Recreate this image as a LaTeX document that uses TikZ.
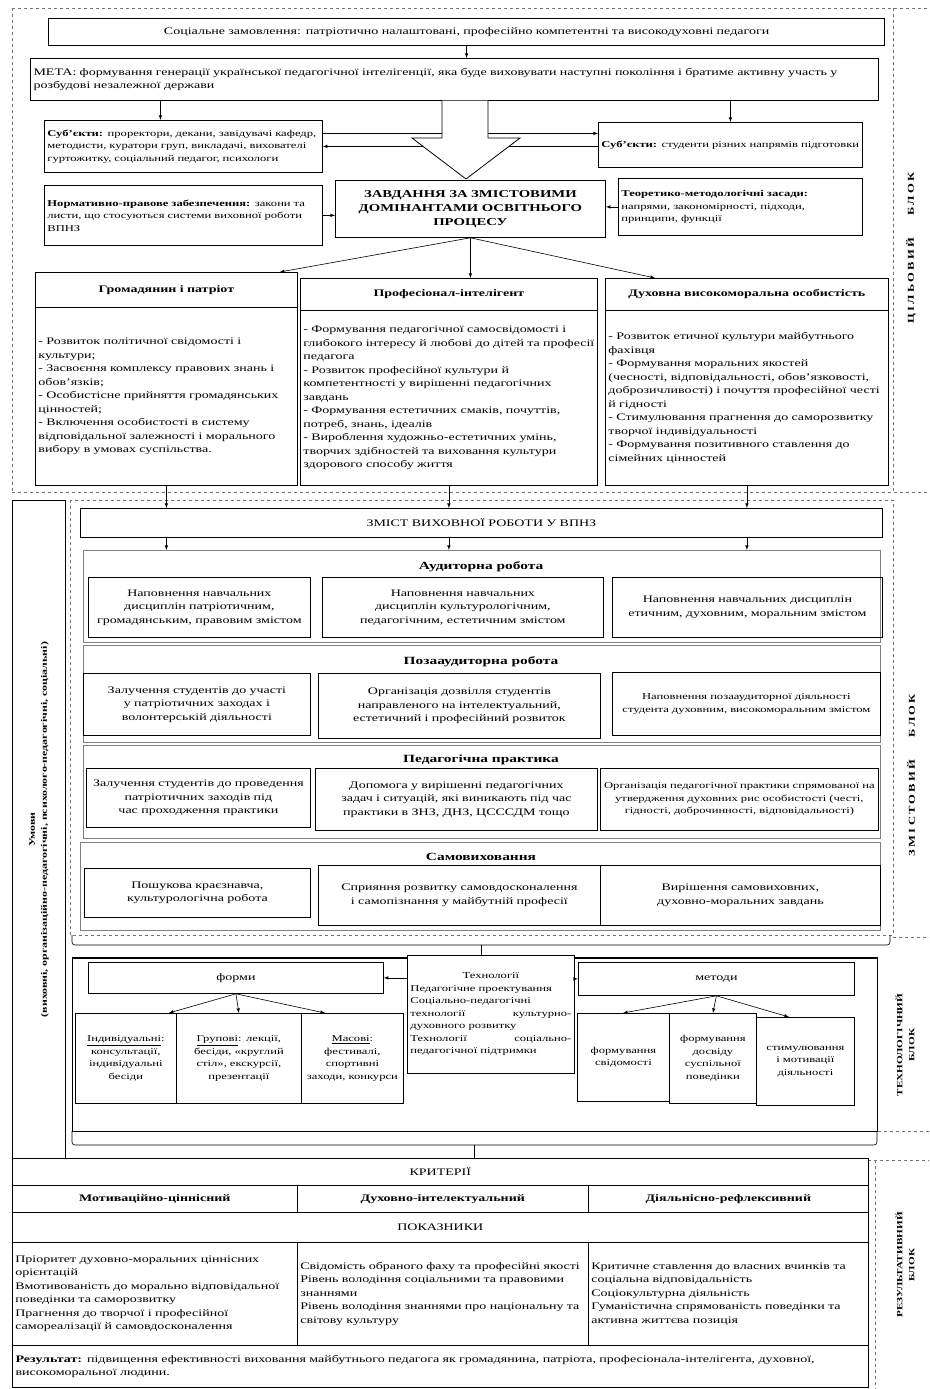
\documentclass[tikz,border=0pt]{standalone}
\usepackage{fontspec}
\setmainfont{Liberation Serif}[FakeStretch=1.4]
\newfontfamily\blokfont{Liberation Serif}[FakeStretch=1.4,LetterSpace=25]
\usetikzlibrary{positioning}

\begin{document}
\begin{tikzpicture}[x=1pt, y=1pt,
  cell/.style={draw, line width=0.8pt, anchor=north west, inner sep=3pt,
    align=center, font=\fontsize{10}{13.5}\selectfont},
  lcell/.style={cell, align=left},
  sm/.style={font=\fontsize{9}{12.5}\selectfont},
  hd/.style={font=\fontsize{10}{13.5}\selectfont\bfseries},
  sect/.style={draw=black!50, line width=0.5pt, anchor=north west, inner sep=0pt},
  sectname/.style={font=\fontsize{11}{13}\selectfont\bfseries},
  blok/.style={draw=black!55, dashed, line width=0.6pt},
  arr/.style={-latex, line width=0.6pt},
  blokname/.style={rotate=90, align=center, font=\blokfont\fontsize{9}{13}\selectfont\bfseries},
  blokname2/.style={rotate=90, align=center, font=\fontsize{8}{12}\selectfont\bfseries}]
  \useasboundingbox (0,0) rectangle (929,-1389);
  % dashed blocks
  \draw[blok] (12,-8) -- (929,-8);
  \draw[blok] (12,-8) -- (12,-492);
  \draw[blok] (893,-8) -- (893,-492);
  \draw[blok] (12,-492) -- (929,-492);
  \draw[blok] (70,-500) rectangle (893,-935);
  \draw[blok] (893,-937) -- (929,-937);
  \draw[blok] (877,-958) -- (877,-1131) -- (929,-1131);
  \draw[blok] (868,-1160) -- (929,-1160);
  \draw[blok] (875,-1160) -- (875,-1389);
  \node[blokname] (cilL) at (911,-248) {ЦІЛЬОВИЙ\hspace{2.5em}БЛОК};
  \node[blokname] (zmiL) at (911,-775) {ЗМІСТОВИЙ\hspace{2.5em}БЛОК};
  \node[blokname2] (tehL) at (905,-1045) {ТЕХНОЛОГІЧНИЙ\\БЛОК};
  \node[blokname2] (rezL) at (905,-1265) {РЕЗУЛЬТАТИВНИЙ\\БЛОК};

  % цільовий блок
  \node[cell, line width=1.2pt, text width=830, minimum height=27] (soc) at (48,-18) {Соціальне замовлення: патріотично налаштовані, професійно компетентні та високодуховні педагоги};
  \node[lcell, line width=1.1pt, text width=842, minimum height=42] (meta) at (30,-58) {МЕТА: формування генерації української педагогічної інтелігенції, яка буде виховувати наступні покоління і братиме активну участь у розбудові незалежної держави};
  \node[lcell, sm, text width=272, minimum height=52] (subjL) at (44,-120) {\textbf{Суб’єкти:} проректори, декани, завідувачі кафедр, методисти, куратори груп, викладачі, вихователі гуртожитку, соціальний педагог, психологи};
  \node[lcell, sm, text width=258, minimum height=45] (subjR) at (598,-122) {\textbf{Суб’єкти:} студенти різних напрямів підготовки};
  \node[lcell, sm, text width=272, minimum height=60] (norm) at (44,-185) {\textbf{Нормативно-правове забезпечення:} закони та листи, що стосуються системи виховної роботи ВПНЗ};
  \node[cell, text width=264, minimum height=57, font=\fontsize{10.5}{14}\selectfont\bfseries] (task) at (335,-180) {ЗАВДАННЯ ЗА ЗМІСТОВИМИ\\ДОМІНАНТАМИ ОСВІТНЬОГО\\ПРОЦЕСУ};
  \node[lcell, sm, text width=238, minimum height=57] (theory) at (618,-178) {\textbf{Теоретико-методологічні засади:} напрями, закономірності, підходи, принципи, функції};

  \node[cell, hd, text width=256, minimum height=35] (hA) at (35,-272) {Громадянин і патріот};
  \node[lcell, text width=256, minimum height=178] (bA) at (35,-307) {- Розвиток політичної свідомості і культури;\\- Засвоєння комплексу правових знань і обов’язків;\\- Особистісне прийняття громадянських цінностей;\\- Включення особистості в систему відповідальної залежності і морального вибору в умовах суспільства.};
  \node[cell, hd, text width=291, minimum height=32] (hB) at (300,-278) {Професіонал-інтелігент};
  \node[lcell, text width=291, minimum height=175] (bB) at (300,-310) {- Формування педагогічної самосвідомості і глибокого інтересу й любові до дітей та професії педагога\\- Розвиток професійної культури й компетентності у вирішенні педагогічних завдань\\- Формування естетичних смаків, почуттів, потреб, знань, ідеалів\\- Вироблення художньо-естетичних умінь, творчих здібностей та виховання культури здорового способу життя};
  \node[cell, hd, text width=277, minimum height=32] (hC) at (605,-278) {Духовна високоморальна особистість};
  \node[lcell, text width=277, minimum height=175] (bC) at (605,-310) {- Розвиток етичної культури майбутнього фахівця\\- Формування моральних якостей (чесності, відповідальності, обов’язковості, доброзичливості) і почуття професійної честі й гідності\\- Стимулювання прагнення до саморозвитку творчої індивідуальності\\- Формування позитивного ставлення до сімейних цінностей};

  \draw[arr] (soc.south) -- (soc.south |- meta.north);
  \coordinate (sl) at ([xshift=-23pt]subjL.north);
  \draw[arr] (sl |- meta.south) -- (sl);
  \draw[arr] (subjR.north |- meta.south) -- (subjR.north);
  \coordinate (lr) at ([yshift=13pt]subjL.east);
  \draw[arr] (lr) -- (lr -| subjR.west);
  \draw[arr] (subjR.west |- subjL.east) -- (subjL.east);
  \draw[arr] (norm.east) -- (norm.east -| task.west);
  \draw[arr] (theory.west) -- (theory.west -| task.east);
  % hollow arrow
  \draw[line width=0.8pt, fill=white] (442,-100.5) -- (442,-138) -- (412,-138) -- (466,-179) -- (520,-138) -- (488,-138) -- (488,-100.5);
  \coordinate (fa) at ([xshift=-18pt]hA.north east);
  \coordinate (fc) at ([xshift=50pt]hC.north west);
  \draw[arr] (task.south) -- (fa);
  \draw[arr] (task.south) -- (task.south |- hB.north);
  \draw[arr] (task.south) -- (fc);

  % змістовий блок
  \node[draw, line width=1pt, anchor=north west, minimum width=53, minimum height=658, inner sep=0pt] (umovy) at (12,-500) {};
  \node[rotate=90, align=center, font=\fontsize{8.5}{12}\selectfont\bfseries] (umovyT) at (umovy.center) {Умови\\(виховні, організаційно-педагогічні, психолого-педагогічні, соціальні)};
  \node[cell, text width=796, minimum height=29] (zmist) at (80,-508) {ЗМІСТ ВИХОВНОЇ РОБОТИ У ВПНЗ};
  \draw[arr] (bA.south) -- (bA.south |- zmist.north);
  \draw[arr] (bB.south) -- (bB.south |- zmist.north);
  \draw[arr] (bC.south) -- (bC.south |- zmist.north);

  \node[sect, minimum width=797, minimum height=92] (aud) at (83,-550) {};
  \node[sectname] (audT) at (481,-567) {Аудиторна робота};
  \node[cell, text width=216, minimum height=60] (aA) at (88,-577) {Наповнення навчальних дисциплін патріотичним, громадянським, правовим змістом};
  \node[cell, text width=275, minimum height=60] (aB) at (322,-577) {Наповнення навчальних дисциплін культурологічним, педагогічним, естетичним змістом};
  \node[cell, text width=264, minimum height=60] (aC) at (612,-577) {Наповнення навчальних дисциплін етичним, духовним, моральним змістом};
  \draw[arr] (bA.south |- zmist.south) -- (bA.south |- aud.north);
  \draw[arr] (bB.south |- zmist.south) -- (bB.south |- aud.north);
  \draw[arr] (bC.south |- zmist.south) -- (bC.south |- aud.north);

  \node[sect, minimum width=797, minimum height=97] (poza) at (83,-645) {};
  \node[sectname] (pozaT) at (481,-662) {Позааудиторна робота};
  \node[cell, text width=221, minimum height=62] (pA) at (83,-673) {Залучення студентів до участі у патріотичних заходах і волонтерській діяльності};
  \node[cell, text width=276, minimum height=65] (pB) at (318,-673) {Організація дозвілля студентів направленого на інтелектуальний, естетичний і професійний розвиток};
  \node[cell, sm, text width=262, minimum height=63] (pC) at (612,-672) {Наповнення позааудиторної діяльності студента духовним, високоморальним змістом};

  \node[sect, minimum width=797, minimum height=93] (prak) at (83,-745) {};
  \node[sectname] (prakT) at (481,-760) {Педагогічна практика};
  \node[cell, text width=218, minimum height=59] (kA) at (86,-768) {Залучення студентів до проведення патріотичних заходів під час проходження практики};
  \node[cell, text width=276, minimum height=62] (kB) at (315,-768) {Допомога у вирішенні педагогічних задач і ситуацій, які виникають під час практики в ЗНЗ, ДНЗ, ЦСССДМ тощо};
  \node[cell, sm, text width=272, minimum height=62] (kC) at (600,-768) {Організація педагогічної практики спрямованої на утвердження духовних рис особистості (честі, гідності, доброчинності, відповідальності)};

  \node[sect, minimum width=800, minimum height=88] (samo) at (80,-842) {};
  \node[sectname] (samoT) at (481,-857) {Самовиховання};
  \node[cell, text width=220, minimum height=49] (sA) at (84,-868) {Пошукова краєзнавча, культурологічна робота};
  \node[cell, text width=276, minimum height=60] (sB) at (318,-865) {Сприяння розвитку самовдосконалення і самопізнання у майбутній професії};
  \node[cell, text width=274, minimum height=60] (sC) at (600,-865) {Вирішення самовиховних, духовно-моральних завдань};

  % технологічний блок
  \node[draw, line width=0.6pt, anchor=north west, minimum width=805, minimum height=173, inner sep=0pt] (tech) at (72,-958) {};
  \draw[line width=1.6pt] (tech.north west) -- (tech.north east);
  \draw[line width=0.6pt, rounded corners=3pt] (72,-935) -- (72,-945) -- (890,-945) -- (890,-935);
  \coordinate (brk1) at (481,-945);
  \draw[line width=0.6pt] (brk1) -- (brk1 |- tech.north);
  \node[cell, text width=289, minimum height=31] (forms) at (88,-962) {форми};
  \node[cell, sm, align=justify, text width=161, minimum height=118, fill=white] (techn) at (407,-955) {\hfil Технології\hfil\\Педагогічне проектування\\Соціально-педагогічні технології культурно-духовного розвитку\\Технології соціально-педагогічної підтримки};
  \node[cell, text width=270, minimum height=33] (methods) at (578,-962) {методи};
  \draw[arr] (techn.west |- forms.east) -- (forms.east);
  \draw[arr] (techn.east |- methods.west) -- (methods.west);

  \node[cell, sm, text width=95, minimum height=90] (fA) at (75,-1013) {\underline{Індивідуальні}: консультації, індивідуальні бесіди};
  \node[cell, sm, text width=119, minimum height=90] (fB) at (176,-1013) {\underline{Групові}: лекції, бесіди, «круглий стіл», екскурсії, презентації};
  \node[cell, sm, text width=96, minimum height=90] (fC) at (301,-1013) {\underline{Масові}: фестивалі, спортивні заходи, конкурси};
  \coordinate (ga) at ([xshift=-8pt]fA.north east);
  \coordinate (gc) at ([xshift=24pt]fC.north west);
  \draw[arr] (forms.south) -- (ga);
  \draw[arr] (forms.south) -- (fB.north);
  \draw[arr] (forms.south) -- (gc);

  \node[cell, sm, text width=86, minimum height=88] (mA) at (577,-1013) {формування свідомості};
  \node[cell, sm, text width=81, minimum height=90] (mB) at (669,-1013) {формування досвіду суспільної поведінки};
  \node[cell, sm, text width=92, minimum height=88] (mC) at (756,-1017) {стимулювання і мотивації діяльності};
  \coordinate (ma) at ([xshift=46pt]mA.north west);
  \coordinate (mc) at ([xshift=33pt]mC.north west);
  \draw[arr] (methods.south) -- (ma);
  \draw[arr] (methods.south) -- (mB.north);
  \draw[arr] (methods.south) -- (mc);

  % результативний блок
  \draw[line width=0.6pt, rounded corners=3pt] (72,-1131) -- (72,-1145) -- (877,-1145) -- (877,-1131);
  \node[cell, line width=0.6pt, text width=850, minimum height=27] (krit) at (12,-1158) {КРИТЕРІЇ};
  \coordinate (brk2) at (474,-1145);
  \draw[line width=0.6pt] (brk2) -- (brk2 |- krit.north);
  \node[cell, hd, line width=0.6pt, text width=279, minimum height=27] (cA) at (12,-1185) {Мотиваційно-ціннісний};
  \node[cell, hd, line width=0.6pt, text width=285, minimum height=27] (cB) at (297,-1185) {Духовно-інтелектуальний};
  \node[cell, hd, line width=0.6pt, text width=274, minimum height=27] (cC) at (588,-1185) {Діяльнісно-рефлексивний};
  \node[cell, line width=0.6pt, text width=850, minimum height=30] (pokaz) at (12,-1212) {ПОКАЗНИКИ};
  \node[lcell, line width=0.6pt, text width=279, minimum height=103] (iA) at (12,-1242) {Пріоритет духовно-моральних ціннісних орієнтацій\\Вмотивованість до морально відповідальної поведінки та саморозвитку\\Прагнення до творчої і професійної самореалізації й самовдосконалення};
  \node[lcell, line width=0.6pt, text width=285, minimum height=103] (iB) at (297,-1242) {Свідомість обраного фаху та професійні якості\\Рівень володіння соціальними та правовими знаннями\\Рівень володіння знаннями про національну та світову культуру};
  \node[lcell, line width=0.6pt, text width=274, minimum height=103] (iC) at (588,-1242) {Критичне ставлення до власних вчинків та соціальна відповідальність\\Соціокультурна діяльність\\Гуманістична спрямованість поведінки та активна життєва позиція};
  \node[lcell, line width=1.2pt, text width=850, minimum height=42] (res) at (12,-1345) {\textbf{Результат:} підвищення ефективності виховання майбутнього педагога як громадянина, патріота, професіонала-інтелігента, духовної, високоморальної людини.};
\end{tikzpicture}
\end{document}
